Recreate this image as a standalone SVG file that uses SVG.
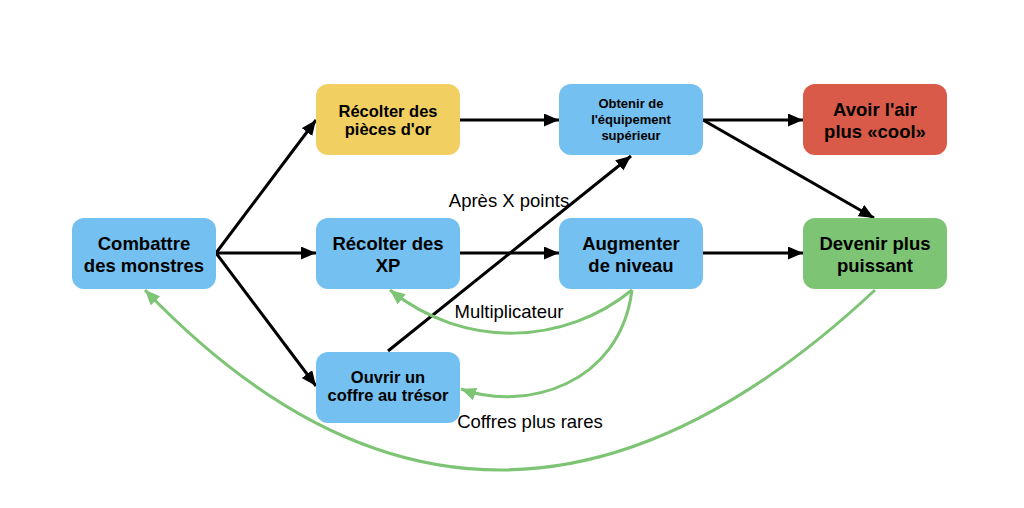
<svg xmlns="http://www.w3.org/2000/svg" width="1024" height="508" viewBox="0 0 1024 508">
<defs>
<style>
.node rect{rx:12;ry:12}
.blue{fill:#74C1F1}
.yellow{fill:#F1CF61}
.red{fill:#D95A48}
.green{fill:#7DC474}
text{font-family:"Liberation Sans",Arial,sans-serif;fill:#000}
.t{font-weight:bold;font-size:18.5px;text-anchor:middle}
.s{font-weight:bold;font-size:16.5px;text-anchor:middle}
.xs{font-weight:bold;font-size:13px;text-anchor:middle}
.lbl{font-size:18.5px;text-anchor:middle}
.blk{stroke:#000;stroke-width:3;fill:none;marker-end:url(#ah)}
.grn{stroke:#7DC474;stroke-width:3;fill:none;marker-end:url(#ahg)}
</style>
<marker id="ah" markerUnits="userSpaceOnUse" markerWidth="16" markerHeight="14" refX="15" refY="6.5" orient="auto"><path d="M0,0 L15,6.5 L0,13 z" fill="#000"/></marker>
<marker id="ahg" markerUnits="userSpaceOnUse" markerWidth="16" markerHeight="14" refX="15" refY="6.5" orient="auto"><path d="M0,0 L15,6.5 L0,13 z" fill="#7DC474"/></marker>
</defs>
<rect width="1024" height="508" fill="#fff"/>
<g id="connectors">
<line class="blk" x1="216" y1="253" x2="316" y2="120"/>
<line class="blk" x1="216" y1="253" x2="316" y2="253"/>
<line class="blk" x1="216" y1="253" x2="316" y2="386"/>
<line class="blk" x1="460" y1="120" x2="559" y2="120"/>
<line class="blk" x1="460" y1="253" x2="559" y2="253"/>
<line class="blk" x1="703" y1="253" x2="803" y2="253"/>
<line class="blk" x1="703" y1="120" x2="803" y2="120"/>
<line class="blk" x1="703" y1="120" x2="874" y2="218"/>
<line class="blk" x1="388" y1="351" x2="631" y2="156"/>
<path class="grn" d="M632,290 C565,345 465,350 390,290"/>
<path class="grn" d="M632,290 C620,385 525,412 461,389"/>
<path class="grn" d="M875,290 Q490,650 145,290"/>
<text class="lbl" x="509" y="207">Après X points</text>
<text class="lbl" x="509" y="318">Multiplicateur</text>
<text class="lbl" x="530" y="428">Coffres plus rares</text>
</g>
<g id="combattre" class="node"><rect class="blue" x="72" y="218" width="144" height="71"/><text class="t" x="144" y="250">Combattre</text><text class="t" x="144" y="272">des monstres</text></g>
<g id="pieces" class="node"><rect class="yellow" x="316" y="84" width="144" height="71"/><text class="s" x="388" y="117">Récolter des</text><text class="s" x="388" y="135">pièces d'or</text></g>
<g id="xp" class="node"><rect class="blue" x="316" y="218" width="144" height="71"/><text class="t" x="388" y="250">Récolter des</text><text class="t" x="388" y="272">XP</text></g>
<g id="coffre" class="node"><rect class="blue" x="316" y="352" width="144" height="71"/><text class="s" x="388" y="383">Ouvrir un</text><text class="s" x="388" y="401">coffre au trésor</text></g>
<g id="equipement" class="node"><rect class="blue" x="559" y="84" width="144" height="71"/><text class="xs" x="631" y="108">Obtenir de</text><text class="xs" x="631" y="124">l'équipement</text><text class="xs" x="631" y="140">supérieur</text></g>
<g id="niveau" class="node"><rect class="blue" x="559" y="218" width="144" height="71"/><text class="t" x="631" y="250">Augmenter</text><text class="t" x="631" y="272">de niveau</text></g>
<g id="cool" class="node"><rect class="red" x="803" y="84" width="144" height="71"/><text class="t" x="875" y="116">Avoir l'air</text><text class="t" x="875" y="138">plus «cool»</text></g>
<g id="puissant" class="node"><rect class="green" x="803" y="218" width="144" height="71"/><text class="t" x="875" y="250">Devenir plus</text><text class="t" x="875" y="272">puissant</text></g>
</svg>
